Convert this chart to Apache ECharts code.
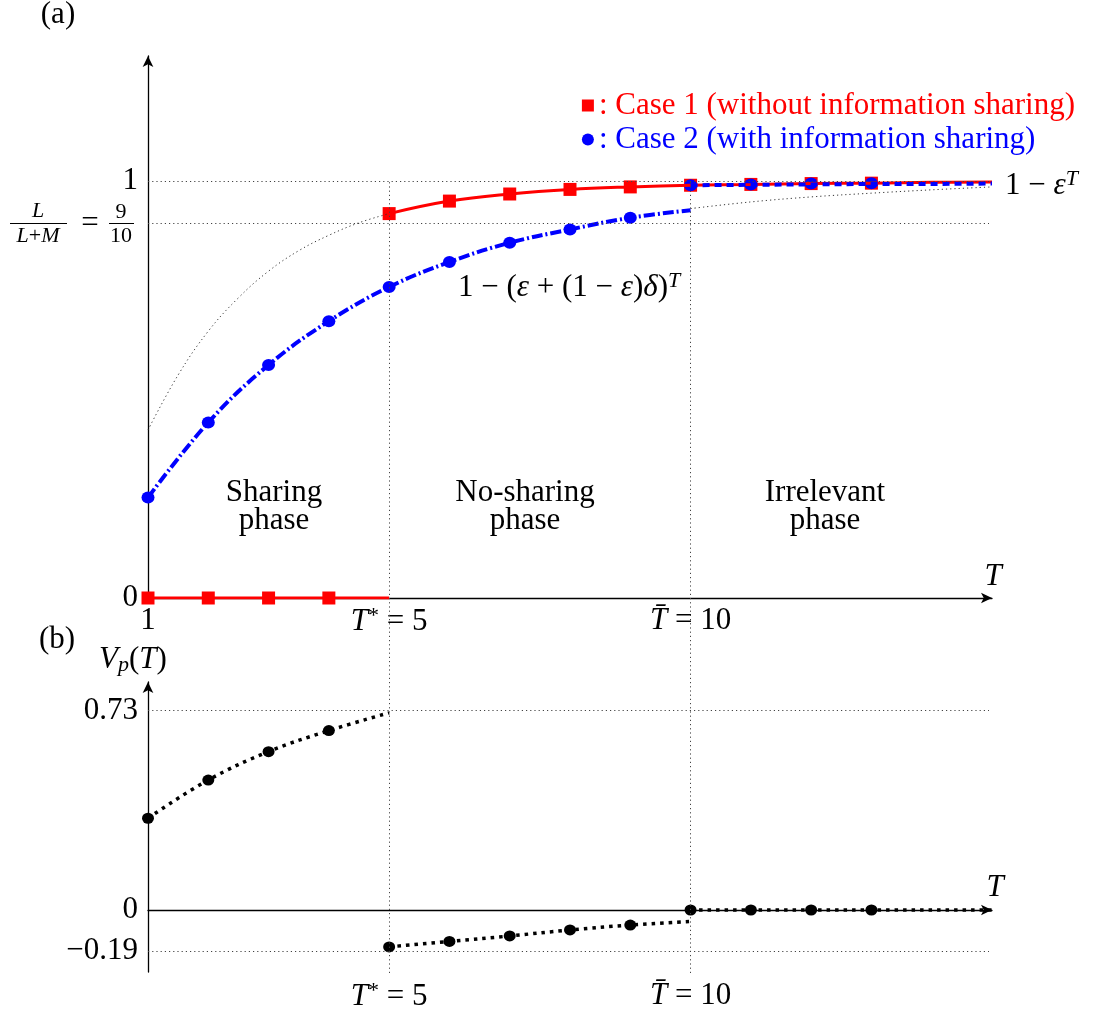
<!DOCTYPE html>
<html>
<head>
    <meta charset="UTF-8">
    <title>Information sharing phases</title>
    <script src="https://cdn.jsdelivr.net/npm/echarts@6/dist/echarts.min.js"></script>
</head>
<body style="margin:0;background:#fff">
<div id="main" style="width:1094px;height:1018px"></div>
<script type="text/javascript">
    // (a) case 1: zero before T*, then the 1 - eps^T curve
    var case1ZeroT = [1, 2, 3, 4, 5];
    var case1CurveT = [5, 6, 7, 8, 9, 10, 11, 12, 13, 14, 15];
    var case1CurveV = [0.922, 0.952, 0.969, 0.980, 0.986, 0.990, 0.992, 0.994, 0.995, 0.997, 0.998];
    var case1MarkT = [1, 2, 3, 4, 5, 6, 7, 8, 9, 10, 11, 12, 13];
    var case1MarkV = [0, 0, 0, 0, 0.922, 0.952, 0.969, 0.980, 0.986, 0.990, 0.992, 0.994, 0.995];

    // (a) case 2: 1 - (eps + (1-eps)delta)^T up to T-bar, then same as case 1
    var case2T = [1, 2, 3, 4, 5, 6, 7, 8, 9, 10];
    var case2V = [0.241, 0.421, 0.559, 0.664, 0.746, 0.806, 0.852, 0.884, 0.912, 0.930];
    var case2AfterT = [10, 11, 12, 13, 14, 15];
    var case2AfterV = [0.990, 0.991, 0.992, 0.993, 0.993, 0.994];
    var case2MarkT = [1, 2, 3, 4, 5, 6, 7, 8, 9, 10, 11, 12, 13];
    var case2MarkV = [0.241, 0.421, 0.559, 0.664, 0.746, 0.806, 0.852, 0.884, 0.912, 0.990, 0.992, 0.994, 0.995];

    // thin dotted continuations of the two formulas
    var epsGhostT = [1, 1.5, 2, 2.5, 3, 3.5, 4, 4.5, 5];
    var epsGhostV = [0.403, 0.535, 0.640, 0.720, 0.784, 0.833, 0.870, 0.900, 0.922];
    var rhoGhostT = [10, 11, 12, 13, 14, 15];
    var rhoGhostV = [0.934, 0.950, 0.962, 0.971, 0.979, 0.986];

    // (b) V_p(T)
    var vpSharingT = [1, 2, 3, 4, 5];
    var vpSharingV = [0.336, 0.476, 0.580, 0.657, 0.722];
    var vpNoShareT = [5, 6, 7, 8, 9, 10];
    var vpNoShareV = [-0.135, -0.115, -0.095, -0.073, -0.055, -0.042];
    var vpIrrelT = [10, 11, 12, 13, 14, 15];
    var vpIrrelV = [0, 0, 0, 0, 0, 0];
    var vpMarkT = [1, 2, 3, 4, 5, 6, 7, 8, 9, 10, 11, 12, 13];
    var vpMarkV = [0.336, 0.476, 0.580, 0.657, -0.135, -0.115, -0.095, -0.073, -0.055, 0, 0, 0, 0];

    // tick labels
    var xTicks = [1, 5, 10];
    var yTicksA = [0, 1];
    var levelsA = [1, 0.9];
    var yTicksB = [0.73, 0, -0.15];
    var yTickTextB = ['0.73', '0', '\u22120.19'];
    var phaseT = [5, 10];

    var SERIF = "'Liberation Serif', 'DejaVu Serif', serif";
    var FS = 31, FS_SMALL = 22;
    var RED = '#ff0000', BLUE = '#0000ff';

    function pairs(xs, ys) {
        var out = [];
        for (var i = 0; i < xs.length; i++) out.push([xs[i], ys[i]]);
        return out;
    }

    var mathRich = {
        i: {fontStyle: 'italic', fontFamily: SERIF, fontSize: FS, color: '#000'},
        sup: {fontFamily: SERIF, fontSize: FS_SMALL, color: '#000', padding: [0, 0, 12, 0]}
    };

    function tLabel(v) {
        if (v === 1) return '1';
        if (v === 5) return '{i|T}{sup|*} = 5';
        if (v === 10) return '{i|T\u0304} = 10';
        return '';
    }

    var dotted = {color: '#444', width: 1, type: [1.2, 3]};

    function hLines(levels, x0, x1) {
        return levels.map(function (l) {
            return [{coord: [x0, l]}, {coord: [x1, l]}];
        });
    }

    function txt(x, y, s, extra) {
        var style = {text: s, fontFamily: SERIF, fontSize: FS, fill: '#000', align: 'center', verticalAlign: 'middle'};
        for (var k in extra) style[k] = extra[k];
        return {type: 'text', x: x, y: y, style: style};
    }

    var myChart = echarts.init(document.getElementById('main'));

    var arrowLine = {
        show: true,
        onZero: true,
        symbol: ['none', 'arrow'],
        symbolSize: [8, 11],
        lineStyle: {color: '#000', width: 1.3}
    };

    var option = {
        backgroundColor: '#ffffff',
        animation: false,
        grid: [
            {left: 148, width: 844, top: 56, height: 542},
            {left: 148, width: 844, top: 682, bottom: 46},
            {left: 148, width: 844, top: 181, bottom: 45}
        ],
        xAxis: [
            {
                gridIndex: 0, type: 'value', min: 1, max: 15,
                axisLine: arrowLine, axisTick: {show: false}, splitLine: {show: false},
                axisLabel: {
                    customValues: xTicks, formatter: tLabel, margin: 7,
                    fontFamily: SERIF, fontSize: FS, color: '#000', rich: mathRich
                }
            },
            {
                gridIndex: 1, type: 'value', min: 1, max: 15,
                axisLine: arrowLine, axisTick: {show: false}, splitLine: {show: false},
                axisLabel: {show: false}
            },
            {
                gridIndex: 2, type: 'value', min: 1, max: 15,
                axisLine: {show: false}, axisTick: {show: false}, splitLine: {show: false},
                axisLabel: {
                    customValues: phaseT, formatter: tLabel, margin: 7,
                    fontFamily: SERIF, fontSize: FS, color: '#000', rich: mathRich
                }
            }
        ],
        yAxis: [
            {
                gridIndex: 0, type: 'value', min: 0, max: 1.3,
                axisLine: arrowLine, axisTick: {show: false}, splitLine: {show: false},
                axisLabel: {
                    customValues: yTicksA, margin: 10,
                    fontFamily: SERIF, fontSize: FS, color: '#000'
                }
            },
            {
                gridIndex: 1, type: 'value', min: -0.227, max: 0.835,
                axisLine: arrowLine, axisTick: {show: false}, splitLine: {show: false},
                axisLabel: {
                    customValues: yTicksB, margin: 10,
                    fontFamily: SERIF, fontSize: FS, color: '#000',
                    formatter: function (v) {
                        for (var i = 0; i < yTicksB.length; i++) {
                            if (Math.abs(v - yTicksB[i]) < 1e-6) return yTickTextB[i];
                        }
                        return '';
                    }
                }
            },
            {gridIndex: 2, type: 'value', min: 0, max: 1, show: false}
        ],
        legend: {
            orient: 'vertical',
            right: 14,
            top: 85,
            itemWidth: 12,
            itemHeight: 12,
            itemGap: 3,
            formatter: ': {name}',
            textStyle: {fontFamily: SERIF, fontSize: FS, lineHeight: 31},
            data: [
                {name: 'Case 1 (without information sharing)', icon: 'rect', textStyle: {color: RED}},
                {name: 'Case 2 (with information sharing)', icon: 'circle', textStyle: {color: BLUE}}
            ]
        },
        series: [
            // dotted reference levels, panel (a)
            {
                type: 'line', xAxisIndex: 0, yAxisIndex: 0, data: [[1, 0]],
                showSymbol: false, lineStyle: {opacity: 0}, silent: true,
                markLine: {
                    silent: true, symbol: 'none', label: {show: false},
                    lineStyle: dotted, data: hLines(levelsA, 1, 14.95)
                }
            },
            // dotted reference levels, panel (b)
            {
                type: 'line', xAxisIndex: 1, yAxisIndex: 1, data: [[1, 0]],
                showSymbol: false, lineStyle: {opacity: 0}, silent: true,
                markLine: {
                    silent: true, symbol: 'none', label: {show: false},
                    lineStyle: dotted, data: hLines([0.73, -0.15], 1, 14.95)
                }
            },
            // vertical T* and T-bar lines through both panels
            {
                type: 'line', xAxisIndex: 2, yAxisIndex: 2, data: [[1, 0]],
                showSymbol: false, lineStyle: {opacity: 0}, silent: true,
                markLine: {
                    silent: true, symbol: 'none', label: {show: false},
                    lineStyle: dotted,
                    data: phaseT.map(function (t) { return [{coord: [t, 0]}, {coord: [t, 1]}]; })
                }
            },
            {
                name: 'eps-ghost', type: 'line', xAxisIndex: 0, yAxisIndex: 0, smooth: 0.4,
                showSymbol: false, data: pairs(epsGhostT, epsGhostV),
                lineStyle: {color: '#333', width: 1, type: [1.2, 3]}
            },
            {
                name: 'rho-ghost', type: 'line', xAxisIndex: 0, yAxisIndex: 0, smooth: 0.4,
                showSymbol: false, data: pairs(rhoGhostT, rhoGhostV),
                lineStyle: {color: '#333', width: 1, type: [1.2, 3]}
            },
            {
                name: 'case1-zero', type: 'line', xAxisIndex: 0, yAxisIndex: 0,
                showSymbol: false, data: pairs(case1ZeroT, [0, 0, 0, 0, 0]),
                lineStyle: {color: RED, width: 3}, itemStyle: {color: RED}
            },
            {
                name: 'case1-curve', type: 'line', xAxisIndex: 0, yAxisIndex: 0, smooth: 0.4,
                showSymbol: false, data: pairs(case1CurveT, case1CurveV),
                lineStyle: {color: RED, width: 3}, itemStyle: {color: RED}
            },
            {
                name: 'case2-curve', type: 'line', xAxisIndex: 0, yAxisIndex: 0, smooth: 0.4,
                showSymbol: false, data: pairs(case2T, case2V),
                lineStyle: {color: BLUE, width: 4, type: [11, 3, 2, 3]}, itemStyle: {color: BLUE}
            },
            {
                name: 'case2-after', type: 'line', xAxisIndex: 0, yAxisIndex: 0,
                showSymbol: false, data: pairs(case2AfterT, case2AfterV),
                lineStyle: {color: BLUE, width: 4, type: [7, 5]}, itemStyle: {color: BLUE}
            },
            {
                name: 'Case 1 (without information sharing)', type: 'scatter', xAxisIndex: 0, yAxisIndex: 0,
                symbol: 'rect', symbolSize: 13, data: pairs(case1MarkT, case1MarkV),
                itemStyle: {color: RED, opacity: 1}
            },
            {
                name: 'Case 2 (with information sharing)', type: 'scatter', xAxisIndex: 0, yAxisIndex: 0,
                symbol: 'circle', symbolSize: [13, 12], data: pairs(case2MarkT, case2MarkV),
                itemStyle: {color: BLUE, opacity: 1}
            },
            {
                name: 'vp-sharing', type: 'line', xAxisIndex: 1, yAxisIndex: 1, smooth: 0.4,
                showSymbol: false, data: pairs(vpSharingT, vpSharingV),
                lineStyle: {color: '#000', width: 3.5, type: [3.5, 5]}
            },
            {
                name: 'vp-noshare', type: 'line', xAxisIndex: 1, yAxisIndex: 1, smooth: 0.4,
                showSymbol: false, data: pairs(vpNoShareT, vpNoShareV),
                lineStyle: {color: '#000', width: 3.5, type: [3.5, 5]}
            },
            {
                name: 'vp-irrelevant', type: 'line', xAxisIndex: 1, yAxisIndex: 1,
                showSymbol: false, data: pairs(vpIrrelT, vpIrrelV),
                lineStyle: {color: '#000', width: 3.5, type: [3.5, 5]}
            },
            {
                name: 'vp-marks', type: 'scatter', xAxisIndex: 1, yAxisIndex: 1,
                symbol: 'circle', symbolSize: [12, 11], data: pairs(vpMarkT, vpMarkV),
                itemStyle: {color: '#000', opacity: 1}
            }
        ],
        graphic: [
            txt(58, 15, '(a)'),
            txt(57, 640, '(b)'),
            txt(993, 577, 'T', {fontStyle: 'italic'}),
            txt(995, 888, 'T', {fontStyle: 'italic'}),
            txt(133, 660, '{i|V}{sub|p}(​{i|T})', {
                rich: {
                    i: {fontStyle: 'italic', fontFamily: SERIF, fontSize: FS},
                    sub: {fontStyle: 'italic', fontFamily: SERIF, fontSize: FS_SMALL, padding: [10, 0, 0, 0]}
                }
            }),
            // L/(L+M) = 9/10
            txt(38, 211, 'L', {fontStyle: 'italic', fontSize: FS_SMALL}),
            {type: 'line', shape: {x1: 10, y1: 223.5, x2: 67, y2: 223.5}, style: {stroke: '#000', lineWidth: 1}},
            txt(38, 236, '{i|L}+{i|M}', {
                fontSize: FS_SMALL,
                rich: {i: {fontStyle: 'italic', fontFamily: SERIF, fontSize: FS_SMALL}}
            }),
            txt(90, 224, '='),
            txt(121, 212, '9', {fontSize: FS_SMALL}),
            {type: 'line', shape: {x1: 109, y1: 223.5, x2: 134, y2: 223.5}, style: {stroke: '#000', lineWidth: 1}},
            txt(121, 236, '10', {fontSize: FS_SMALL}),
            // formula annotations
            txt(1005, 186, '1 \u2212 {i|\u03b5}{sup|T}', {
                align: 'left',
                rich: {
                    i: {fontStyle: 'italic', fontFamily: SERIF, fontSize: FS},
                    sup: {fontStyle: 'italic', fontFamily: SERIF, fontSize: FS_SMALL, padding: [0, 0, 14, 0]}
                }
            }),
            txt(458, 288, '1 \u2212 ({i|\u03b5} + (1 \u2212 {i|\u03b5}){i|\u03b4}){sup|T}', {
                align: 'left',
                rich: {
                    i: {fontStyle: 'italic', fontFamily: SERIF, fontSize: FS},
                    sup: {fontStyle: 'italic', fontFamily: SERIF, fontSize: FS_SMALL, padding: [0, 0, 14, 0]}
                }
            }),
            // phase names
            txt(274, 507, 'Sharing\nphase', {lineHeight: 28}),
            txt(525, 507, 'No-sharing\nphase', {lineHeight: 28}),
            txt(825, 507, 'Irrelevant\nphase', {lineHeight: 28})
        ]
    };

    myChart.setOption(option);
</script>
</body>
</html>
